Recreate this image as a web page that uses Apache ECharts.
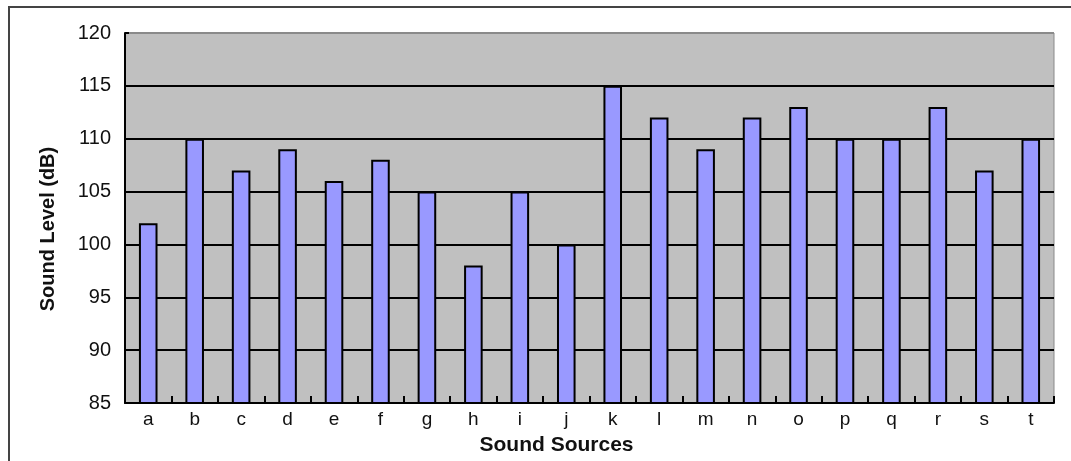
<!DOCTYPE html>
<html>
<head>
<meta charset="utf-8">
<script src="https://cdn.jsdelivr.net/npm/echarts@6/dist/echarts.min.js"></script>
<style>
html,body{margin:0;padding:0;background:#fff;}
#chart{width:1071px;height:461px;}
</style>
</head>
<body>
<div id="chart"></div>
<script>
const categories = ['a','b','c','d','e','f','g','h','i','j','k','l','m','n','o','p','q','r','s','t'];
const soundLevels = [102,110,107,109,106,108,105,98,105,100,115,112,109,112,113,110,110,113,107,110];
const yMin = 85, yMax = 120, yStep = 5;

const chart = echarts.init(document.getElementById('chart'));
const font = 'Liberation Sans, Arial, sans-serif';
chart.setOption({
  animation: false,
  graphic: [{
    type: 'rect', silent: true, z: -10,
    shape: {x: 9, y: 7, width: 1100, height: 500},
    style: {fill: 'none', stroke: '#444', lineWidth: 2}
  }],
  grid: {
    left: 125, right: 17, top: 33, bottom: 56,
    show: true, backgroundColor: '#c0c0c0', borderColor: '#8a8a8a', borderWidth: 1
  },
  xAxis: {
    type: 'category',
    data: categories,
    name: 'Sound Sources',
    nameLocation: 'middle',
    nameGap: 32,
    nameTextStyle: {fontFamily: font, fontSize: 21, fontWeight: 'bold', color: '#111', padding: [0, 66, 0, 0]},
    axisLine: {lineStyle: {color: '#000', width: 2}},
    axisTick: {show: true, inside: true, length: 7, lineStyle: {color: '#000', width: 2}},
    axisLabel: {fontFamily: font, fontSize: 19, color: '#111', margin: 7}
  },
  yAxis: {
    type: 'value',
    min: yMin, max: yMax, interval: yStep,
    name: 'Sound Level (dB)',
    nameLocation: 'middle',
    nameGap: 67,
    nameRotate: 90,
    nameTextStyle: {fontFamily: font, fontSize: 20, fontWeight: 'bold', color: '#111', padding: [0, 22, 0, 0]},
    axisLine: {show: true, lineStyle: {color: '#000', width: 2}},
    axisTick: {show: true, inside: true, length: 4, lineStyle: {color: '#000', width: 2}},
    axisLabel: {fontFamily: font, fontSize: 20, color: '#111', margin: 14},
    splitLine: {show: true, lineStyle: {color: ['#000','#000','#000','#000','#000','#000','#000','#8a8a8a'], width: 2}}
  },
  series: [{
    type: 'bar',
    data: soundLevels,
    barCategoryGap: '60%',
    itemStyle: {color: '#9999ff', borderColor: '#000', borderWidth: 2}
  }]
});
</script>
</body>
</html>
